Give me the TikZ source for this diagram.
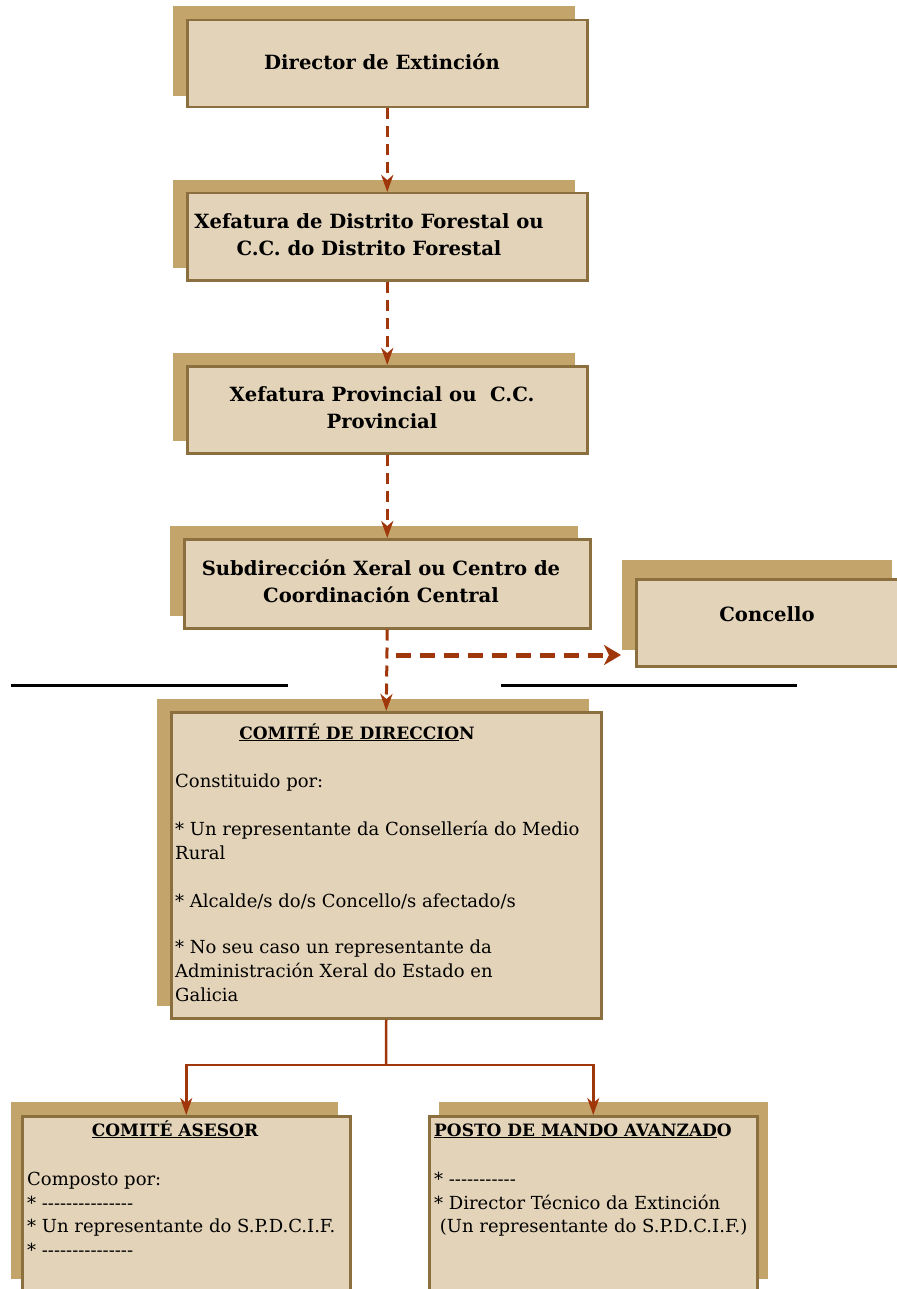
\documentclass[tikz,border=0pt]{standalone}
\usepackage{fontspec}
\setmainfont{DejaVu Serif}
\usetikzlibrary{arrows.meta}
\definecolor{boxc}{RGB}{227,211,184}
\definecolor{shadc}{RGB}{195,164,107}
\definecolor{bordc}{RGB}{139,111,62}
\definecolor{arrc}{RGB}{160,55,10}
\begin{document}
\begin{tikzpicture}[x=1pt,y=-1pt,
  shad/.style={fill=shadc, draw=none},
  mainbox/.style={fill=boxc, draw=bordc, line width=2.5pt, anchor=north west, inner sep=0pt},
  titletext/.style={font=\fontsize{19.6}{27}\selectfont\bfseries, align=center, inner sep=0pt},
  headtext/.style={font=\fontsize{17}{20}\selectfont\bfseries, inner sep=0pt},
  bodytext/.style={font=\fontsize{18}{24}\selectfont, align=left, anchor=north west, inner sep=0pt},
  smalltext/.style={font=\fontsize{18}{23.5}\selectfont, align=left, anchor=north west, inner sep=0pt},
  tip/.style={-{Stealth[length=17pt,width=12pt,inset=5pt]}},
  dasharrow/.style={draw=arrc, line width=3pt, dash pattern=on 11pt off 7pt, tip},
  thickdash/.style={draw=arrc, line width=5pt, dash pattern=on 15pt off 9pt, -{Stealth[length=17pt,width=20pt,inset=5pt]}},
  solidline/.style={draw=arrc, line width=2.5pt},
  solidarrow/.style={draw=arrc, line width=2.5pt, tip},
  sepline/.style={draw=black, line width=3pt}
]
\useasboundingbox (0,0) rectangle (896,1289);

% shadows
\fill[shad] (173,6) rectangle (575,96);
\fill[shad] (173,180) rectangle (575,268);
\fill[shad] (173,353) rectangle (575,441);
\fill[shad] (170,526) rectangle (578,616);
\fill[shad] (622,560) rectangle (892,650);
\fill[shad] (157,699) rectangle (589,1006);
\fill[shad] (11,1102) rectangle (338,1279);
\fill[shad] (439,1102) rectangle (768,1279);

% main boxes
\node[mainbox, minimum width=400pt, minimum height=87pt] (dir) at (186,19) {};
\node[mainbox, minimum width=400pt, minimum height=87pt] (xdf) at (186,192) {};
\node[mainbox, minimum width=400pt, minimum height=87pt] (xpr) at (186,365) {};
\node[mainbox, minimum width=406pt, minimum height=89pt] (sub) at (183,538) {};
\node[mainbox, minimum width=270pt, minimum height=87pt] (con) at (635,578) {};
\node[mainbox, minimum width=430pt, minimum height=306pt] (cd) at (170,711) {};
\node[mainbox, minimum width=328pt, minimum height=200pt] (ca) at (21,1115) {};
\node[mainbox, minimum width=328pt, minimum height=200pt] (pm) at (428,1115) {};

% titles
\node[titletext] (dirt) at (382,62) {Director de Extinción};
\node[titletext] (xdft) at (369,235) {Xefatura de Distrito Forestal ou\\C.C. do Distrito Forestal};
\node[titletext] (xprt) at (382,408) {Xefatura Provincial ou\ \ C.C.\\Provincial};
\node[titletext] (subt) at (381,581) {Subdirección Xeral ou Centro de\\Coordinación Central};
\node[titletext] (cont) at (767,614) {Concello};

% comite de direccion
\node[headtext, anchor=base] (cdh) at (357,739) {\underline{COMITÉ DE DIRECCIO}N};
\node[bodytext] (cdb) at (175,774) {Constituido por:\\[24pt]
* Un representante da Consellería do Medio\\
Rural\\[24pt]
* Alcalde/s do/s Concello/s afectado/s\\[22pt]
* No seu caso un representante da\\
Administración Xeral do Estado en\\
Galicia};

% comite asesor
\node[headtext, anchor=base] (cah) at (175,1136) {\underline{COMITÉ ASESO}R};
\node[smalltext] (cab) at (27,1172) {Composto por:\\
* -{}-{}-{}-{}-{}-{}-{}-{}-{}-{}-{}-{}-{}-{}-\\
* Un representante do S.P.D.C.I.F.\\
* -{}-{}-{}-{}-{}-{}-{}-{}-{}-{}-{}-{}-{}-{}-};

% posto de mando
\node[headtext, anchor=base west] (pmh) at (434,1136) {\underline{POSTO DE MANDO AVANZAD}O};
\node[smalltext] (pmb) at (434,1172) {* -{}-{}-{}-{}-{}-{}-{}-{}-{}-{}-\\
* Director Técnico da Extinción\\
\ (Un representante do S.P.D.C.I.F.)};

% separator lines
\draw[sepline] (11,685) -- (288,685);
\draw[sepline] (501,685) -- (797,685);

% connectors
\draw[dasharrow] (dir.south) -- (xdf.north);
\draw[dasharrow] (xdf.south) -- (xpr.north);
\draw[dasharrow] (xpr.south) -- (sub.north);
\draw[dasharrow] (sub.south) -- (cd.north);
\coordinate (hs) at (396,655);
\coordinate (he) at (621,655);
\draw[thickdash] (hs) -- (he);
\coordinate (bus) at (386,1065);
\draw[solidline] (cd.south) -- (bus);
\draw[solidarrow] (bus) -| (ca.north);
\draw[solidarrow] (bus) -| (pm.north);
\end{tikzpicture}
\end{document}
